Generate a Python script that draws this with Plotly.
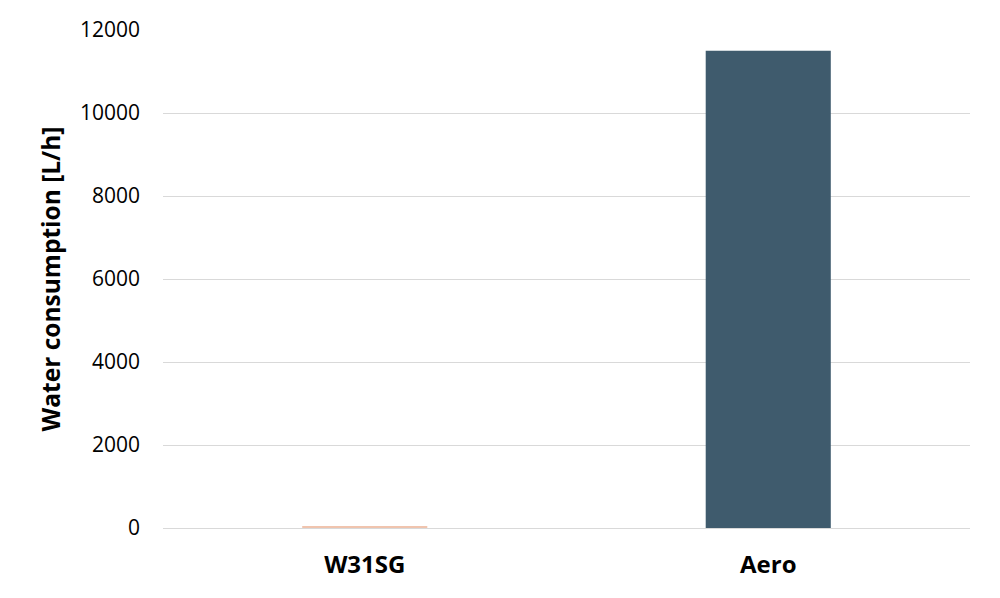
import plotly.graph_objects as go

categories = ["W31SG", "Aero"]
values = [25, 11500]
colors = ["#F0C4AE", "#3F5B6D"]
y_ticks = [0, 2000, 4000, 6000, 8000, 10000, 12000]

fig = go.Figure(go.Bar(x=categories, y=values, marker=dict(color=colors, line=dict(width=0)), width=0.31))

fig.update_layout(
    width=1000, height=598,
    margin=dict(l=155, r=38, t=22, b=78),
    paper_bgcolor="white", plot_bgcolor="white",
    font=dict(family="Open Sans", color="#000000"),
    showlegend=False,
)
fig.update_yaxes(
    range=[0, 12000], tickvals=y_ticks, ticktext=[str(v) for v in y_ticks],
    showgrid=True, gridcolor="#D9D9D9", gridwidth=1.3, zeroline=False,
    tickfont=dict(size=21, family="Open Sans"), ticks="", ticklabelstandoff=22,
    title=dict(text="<b>Water consumption [L/h]</b>", font=dict(size=24.5, family="Open Sans"), standoff=12),
    automargin=False,
)
fig.update_xaxes(
    showline=True, linecolor="#D9D9D9", linewidth=1.3, ticks="",
    tickfont=dict(size=24, family="Open Sans", weight="bold"),
    ticklabelstandoff=15, automargin=False,
)
fig.write_html("out.html")
